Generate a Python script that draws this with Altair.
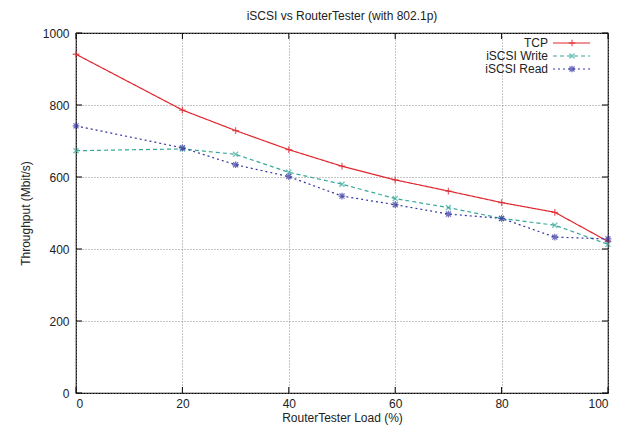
import altair as alt
import pandas as pd

loads = [0, 20, 30, 40, 50, 60, 70, 80, 90, 100]
tcp = [941, 786, 729, 676, 630, 592, 561, 529, 502, 421]
iscsi_write = [673, 678, 663, 613, 580, 540, 515, 485, 466, 413]
iscsi_read = [742, 681, 634, 601, 547, 523, 497, 485, 433, 428]
series = ["TCP", "iSCSI Write", "iSCSI Read"]
x_ticks = [0, 20, 40, 60, 80, 100]
y_ticks = [0, 200, 400, 600, 800, 1000]

colors = ["#e0262e", "#35a89a", "#3535a0"]
dashes = [[1, 0], [4, 3], [2, 3]]
plus = "M-1,0L1,0M0,-1L0,1"
xs = "M-0.75,-0.75L0.75,0.75M-0.75,0.75L0.75,-0.75"
star = plus + xs
shapes = [plus, xs, star]

W, H = 532, 360

rows = []
for name, vals in zip(series, [tcp, iscsi_write, iscsi_read]):
    for l, v in zip(loads, vals):
        rows.append({"load": l, "value": v, "series": name})
df = pd.DataFrame(rows)

xscale = alt.Scale(domain=[0, 100], nice=False)
yscale = alt.Scale(domain=[0, 1000], nice=False)
cscale = alt.Scale(domain=series, range=colors)
dscale = alt.Scale(domain=series, range=dashes)
sscale = alt.Scale(domain=series, range=shapes)

base = alt.Chart(df).encode(
    x=alt.X("load:Q", scale=xscale,
            axis=alt.Axis(title="RouterTester Load (%)", values=x_ticks, grid=True,
                          gridDash=[1, 2], gridColor="#8a8a8a", tickSize=0, format="d",
                          labelPadding=5, titlePadding=3, domain=False)),
    y=alt.Y("value:Q", scale=yscale,
            axis=alt.Axis(title="Throughput (Mbit/s)", values=y_ticks, grid=True,
                          gridDash=[1, 2], gridColor="#8a8a8a", tickSize=0, format="d",
                          labelPadding=7, titlePadding=10, domain=False)),
    color=alt.Color("series:N", scale=cscale, legend=None),
)

lines = base.mark_line(strokeWidth=1.2).encode(
    strokeDash=alt.StrokeDash("series:N", scale=dscale, legend=None)
)
points = base.mark_point(filled=False, size=45, strokeWidth=1.3).encode(
    shape=alt.Shape("series:N", scale=sscale, legend=None)
)

xt = alt.Chart(pd.DataFrame({"t": x_ticks})).mark_rule(color="black", strokeWidth=1)
xticks_b = xt.encode(x=alt.X("t:Q", scale=xscale), y=alt.value(H), y2=alt.value(H - 6))
xticks_t = xt.encode(x=alt.X("t:Q", scale=xscale), y=alt.value(0), y2=alt.value(6))
yt = alt.Chart(pd.DataFrame({"t": y_ticks})).mark_rule(color="black", strokeWidth=1)
yticks_l = yt.encode(y=alt.Y("t:Q", scale=yscale), x=alt.value(0), x2=alt.value(6))
yticks_r = yt.encode(y=alt.Y("t:Q", scale=yscale), x=alt.value(W), x2=alt.value(W - 6))

legend_layers = []
for i, name in enumerate(series):
    ly = 10 + 13 * i
    ldf = pd.DataFrame({"series": [name]})
    lc = alt.Chart(ldf)
    legend_layers.append(
        lc.mark_rule(strokeWidth=1.2, strokeDash=dashes[i], color=colors[i]).encode(
            x=alt.value(477), x2=alt.value(514), y=alt.value(ly))
    )
    legend_layers.append(
        lc.mark_point(filled=False, size=45, strokeWidth=1.3, shape=shapes[i], color=colors[i]).encode(
            x=alt.value(496), y=alt.value(ly))
    )
    legend_layers.append(
        lc.mark_text(align="right", baseline="middle", font="Liberation Sans", fontSize=12,
                     color="#222").encode(
            x=alt.value(472), y=alt.value(ly), text="series:N")
    )

chart = alt.layer(
    lines, points, xticks_b, xticks_t, yticks_l, yticks_r, *legend_layers
).properties(
    width=W, height=H,
    title=alt.TitleParams("iSCSI vs RouterTester (with 802.1p)", fontSize=12,
                          fontWeight="normal", font="Liberation Sans", color="#222",
                          offset=4),
    autosize=alt.AutoSizeParams(type="none"),
    padding={"left": 68, "top": 25, "right": 7, "bottom": 36},
).configure_view(
    stroke="black", strokeWidth=1.2
).configure_axis(
    labelFont="Liberation Sans", titleFont="Liberation Sans", labelFontSize=12,
    titleFontSize=12, titleFontWeight="normal", labelColor="#222", titleColor="#222"
)

chart.save("out.html", embed_options={"renderer": "svg", "actions": False})
